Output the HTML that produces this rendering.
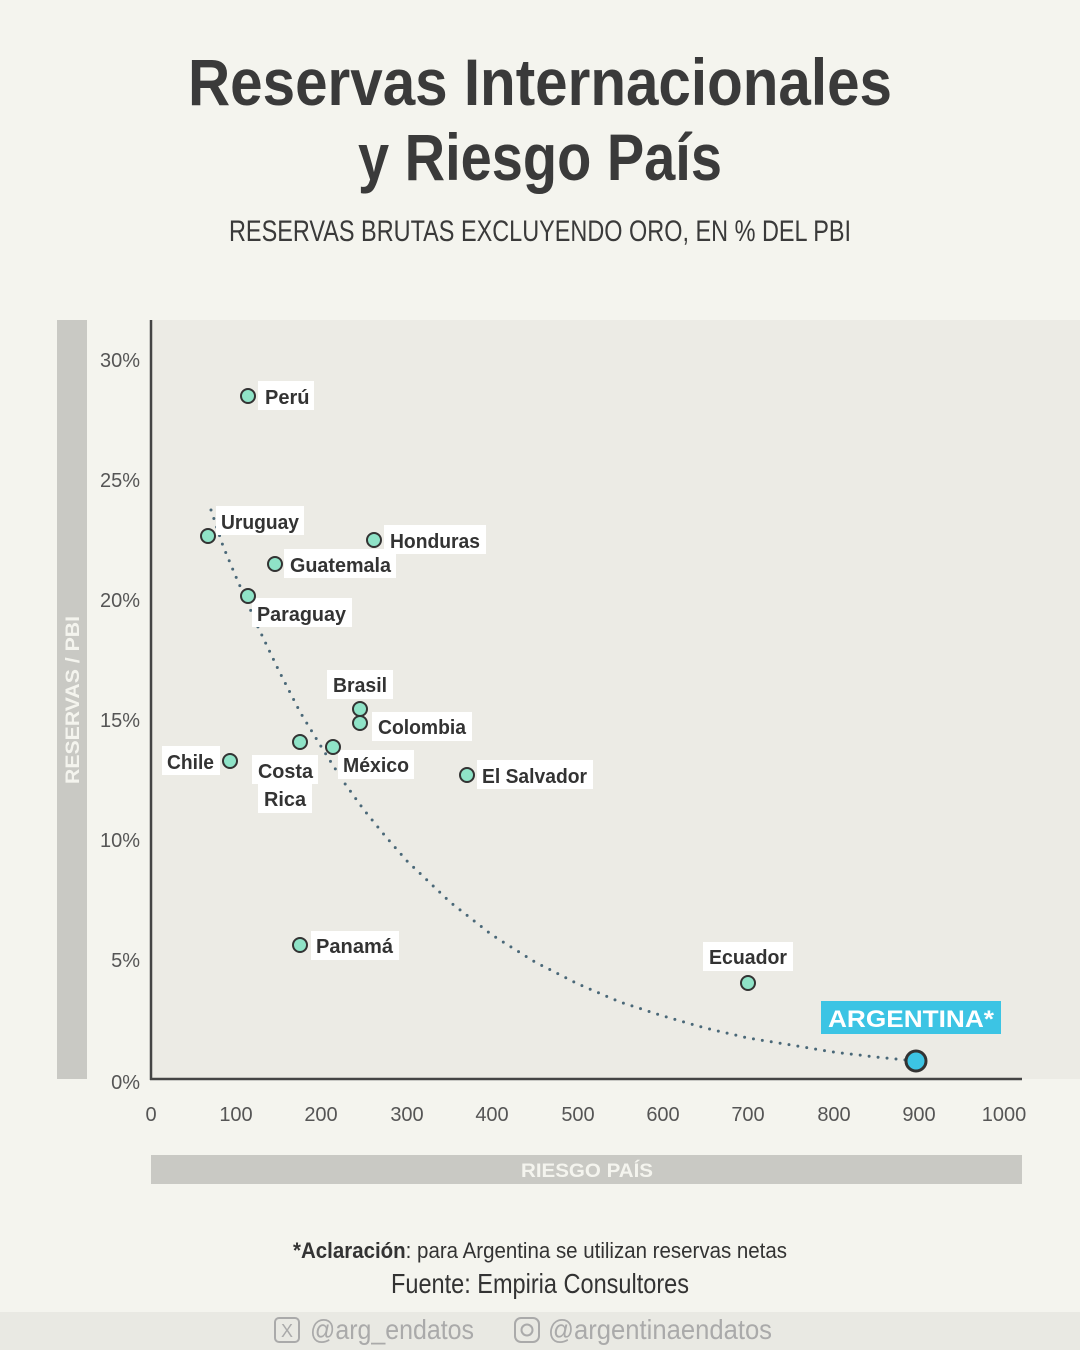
<!DOCTYPE html>
<html><head><meta charset="utf-8"><style>
html,body{margin:0;padding:0;background:#f4f4ee;}
svg{display:block;font-family:"Liberation Sans",sans-serif;}
.lb{font-weight:bold;font-size:20px;fill:#333;}
.tk{font-size:20px;fill:#555;}
</style></head><body>
<svg width="1080" height="1350" viewBox="0 0 1080 1350">
<rect width="1080" height="1350" fill="#f4f4ee"/>
<text x="540" y="105" text-anchor="middle" font-size="66" font-weight="bold" fill="#3a3a3a" textLength="704" lengthAdjust="spacingAndGlyphs">Reservas Internacionales</text>
<text x="540" y="180" text-anchor="middle" font-size="66" font-weight="bold" fill="#3a3a3a" textLength="364" lengthAdjust="spacingAndGlyphs">y Riesgo País</text>
<text x="540" y="241" text-anchor="middle" font-size="30" fill="#3a3a3a" textLength="622" lengthAdjust="spacingAndGlyphs">RESERVAS BRUTAS EXCLUYENDO ORO, EN % DEL PBI</text>
<rect x="151" y="320" width="929" height="759" fill="#ecebe5"/>
<rect x="57" y="320" width="30" height="759" fill="#c9c9c4"/>
<text transform="translate(79,700) rotate(-90)" text-anchor="middle" font-size="19" font-weight="bold" fill="#f4f4ee" textLength="168" lengthAdjust="spacingAndGlyphs">RESERVAS / PBI</text>
<rect x="151" y="1155" width="871" height="29" fill="#c9c9c4"/>
<text x="587" y="1177" text-anchor="middle" font-size="19" font-weight="bold" fill="#f4f4ee" textLength="132" lengthAdjust="spacingAndGlyphs">RIESGO PAÍS</text>
<line x1="151" y1="320" x2="151" y2="1080" stroke="#444" stroke-width="2.5"/>
<line x1="150" y1="1079" x2="1022" y2="1079" stroke="#444" stroke-width="2.5"/>
<g class="tk" text-anchor="end">
<text x="140" y="367">30%</text><text x="140" y="487">25%</text><text x="140" y="607">20%</text>
<text x="140" y="727">15%</text><text x="140" y="847">10%</text><text x="140" y="967">5%</text><text x="140" y="1089">0%</text>
</g>
<g class="tk" text-anchor="middle">
<text x="151" y="1121">0</text><text x="236" y="1121">100</text><text x="321" y="1121">200</text><text x="407" y="1121">300</text>
<text x="492" y="1121">400</text><text x="578" y="1121">500</text><text x="663" y="1121">600</text><text x="748" y="1121">700</text>
<text x="834" y="1121">800</text><text x="919" y="1121">900</text><text x="1004" y="1121">1000</text>
</g>
<polyline points="211,510 223,546 236,577 258,627 279,671 300,712 322,748 343,781 364,810 386,837 407,861 450,902 492,935 535,962 578,984 620,1002 663,1016 705,1028 748,1038 791,1045 833,1052 876,1057 916,1061" fill="none" stroke="#4a6878" stroke-width="3" stroke-linecap="round" stroke-dasharray="0 9"/>
<g fill="#fff">
<rect x="258" y="381" width="56" height="29"/>
<rect x="216" y="506" width="88" height="29"/>
<rect x="384" y="525" width="102" height="29"/>
<rect x="284" y="549" width="112" height="29"/>
<rect x="252" y="598" width="100" height="29"/>
<rect x="327" y="670" width="66" height="29"/>
<rect x="372" y="712" width="100" height="29"/>
<rect x="162" y="746" width="58" height="29"/>
<rect x="252" y="755" width="66" height="29"/>
<rect x="258" y="784" width="54" height="29"/>
<rect x="338" y="750" width="76" height="29"/>
<rect x="477" y="760" width="116" height="29"/>
<rect x="311" y="931" width="88" height="29"/>
<rect x="703" y="942" width="90" height="29"/>
</g>
<rect x="821" y="1001" width="180" height="33" fill="#3cc4e4"/>
<text x="911" y="1027" text-anchor="middle" font-size="24" font-weight="bold" fill="#fff" textLength="166" lengthAdjust="spacingAndGlyphs">ARGENTINA*</text>
<g class="lb">
<text x="265" y="404">Perú</text>
<text x="221" y="529" textLength="78" lengthAdjust="spacingAndGlyphs">Uruguay</text>
<text x="390" y="548" textLength="90" lengthAdjust="spacingAndGlyphs">Honduras</text>
<text x="290" y="572" textLength="101" lengthAdjust="spacingAndGlyphs">Guatemala</text>
<text x="257" y="621" textLength="89" lengthAdjust="spacingAndGlyphs">Paraguay</text>
<text x="333" y="692" textLength="54" lengthAdjust="spacingAndGlyphs">Brasil</text>
<text x="378" y="734" textLength="88" lengthAdjust="spacingAndGlyphs">Colombia</text>
<text x="167" y="769" textLength="47" lengthAdjust="spacingAndGlyphs">Chile</text>
<text x="258" y="778" textLength="55" lengthAdjust="spacingAndGlyphs">Costa</text>
<text x="264" y="806" textLength="42" lengthAdjust="spacingAndGlyphs">Rica</text>
<text x="343" y="772" textLength="66" lengthAdjust="spacingAndGlyphs">México</text>
<text x="482" y="783" textLength="105" lengthAdjust="spacingAndGlyphs">El Salvador</text>
<text x="316" y="953" textLength="77" lengthAdjust="spacingAndGlyphs">Panamá</text>
<text x="709" y="964" textLength="78" lengthAdjust="spacingAndGlyphs">Ecuador</text>
</g>
<g fill="#8fe3c7" stroke="#333" stroke-width="2">
<circle cx="248" cy="396" r="7"/><circle cx="208" cy="536" r="7"/><circle cx="374" cy="540" r="7"/>
<circle cx="275" cy="564" r="7"/><circle cx="248" cy="596" r="7"/><circle cx="360" cy="709" r="7"/>
<circle cx="360" cy="723" r="7"/><circle cx="300" cy="742" r="7"/><circle cx="333" cy="747" r="7"/>
<circle cx="230" cy="761" r="7"/><circle cx="467" cy="775" r="7"/><circle cx="300" cy="945" r="7"/>
<circle cx="748" cy="983" r="7"/>
</g>
<circle cx="916" cy="1061" r="10" fill="#3cc4e4" stroke="#333" stroke-width="3"/>
<text x="540" y="1258" text-anchor="middle" font-size="22" fill="#333" textLength="494" lengthAdjust="spacingAndGlyphs"><tspan font-weight="bold">*Aclaración</tspan>: para Argentina se utilizan reservas netas</text>
<text x="540" y="1293" text-anchor="middle" font-size="28" fill="#333" textLength="298" lengthAdjust="spacingAndGlyphs">Fuente: Empiria Consultores</text>
<rect x="0" y="1312" width="1080" height="38" fill="#e9e9e3"/>
<rect x="275" y="1318" width="24" height="24" rx="4" fill="none" stroke="#aaa" stroke-width="2"/>
<text x="287" y="1337" text-anchor="middle" font-size="18" fill="#aaa">X</text>
<text x="310" y="1339" font-size="28" fill="#aaa" textLength="164" lengthAdjust="spacingAndGlyphs">@arg_endatos</text>
<rect x="515" y="1318" width="24" height="24" rx="6" fill="none" stroke="#aaa" stroke-width="2"/>
<circle cx="527" cy="1330" r="5.5" fill="none" stroke="#aaa" stroke-width="2"/>
<text x="548" y="1339" font-size="28" fill="#aaa" textLength="224" lengthAdjust="spacingAndGlyphs">@argentinaendatos</text>
</svg>
</body></html>
